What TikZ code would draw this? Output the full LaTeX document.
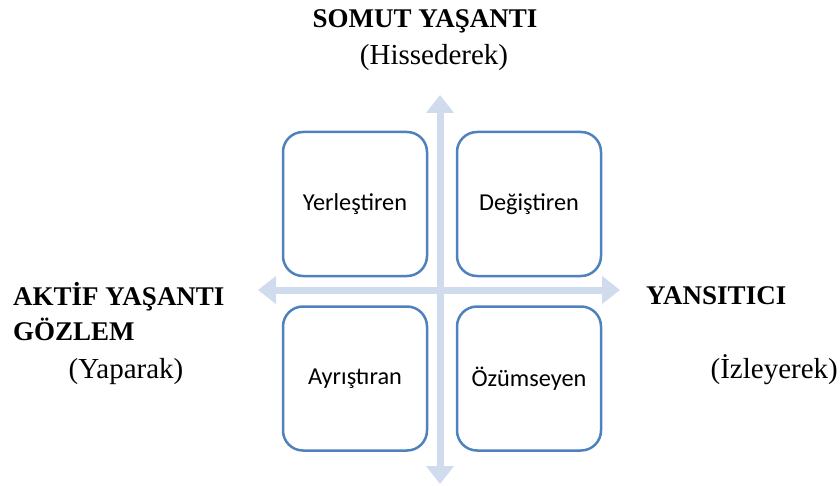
\documentclass[tikz,border=0pt]{standalone}
\usepackage{fontspec}
\setmainfont{Liberation Serif}
\newfontfamily\boxfont{Carlito}
\usepackage{xcolor}
\definecolor{axisblue}{RGB}{208, 220, 238}
\definecolor{boxblue}{RGB}{79, 129, 189}
\usetikzlibrary{
    arrows.meta,
    positioning
}

\begin{document}
\begin{tikzpicture}[
  x=1pt, y=-1pt,
  node distance=28pt and 27.5pt,
  quad/.style={draw=boxblue, line width=2.5pt, rounded corners=20pt, minimum size=144pt, inner sep=0pt, font=\boxfont\fontsize{24.3}{29}\selectfont},
  axis/.style={axisblue, line width=7pt, {Triangle[width=27pt, length=18pt]}-{Triangle[width=27pt, length=18pt]}},
  pole/.style={font=\bfseries\fontsize{27}{32}\selectfont, inner sep=0pt},
  hint/.style={font=\fontsize{29}{34}\selectfont, inner sep=0pt}
]
\useasboundingbox (0,0) rectangle (840,486);

% axes
\coordinate (top)    at (440,95);
\coordinate (bottom) at (440,484);
\coordinate (left)   at (258,290);
\coordinate (right)  at (620,290);
\draw[axis] (bottom) -- (top);
\draw[axis] (left) -- (right);

% quadrants
\node[quad] (yer) at (355,204) {Yerleştiren};
\node[quad] (deg) [right=of yer] {Değiştiren};
\node[quad] (ayr) [below=of yer] {Ayrıştıran};
\node[quad] (ozu) [below=of deg] {Özümseyen};

% poles
\node[pole, anchor=base] (somut) at (425,28) {SOMUT YAŞANTI};
\node[hint, anchor=base] (hiss)  at (434,65) {(Hissederek)};
\node[pole, anchor=base west] (aktif) at (13,305) {AKTİF YAŞANTI};
\node[pole, anchor=base west] (gozlem) at (13,340) {GÖZLEM};
\node[hint, anchor=base] (yap) at (126,378) {(Yaparak)};
\node[pole, anchor=base west] (yans) at (646,304) {YANSITICI};
\node[hint, anchor=base east] (izle) at (838,378) {(İzleyerek)};

\end{tikzpicture}
\end{document}
